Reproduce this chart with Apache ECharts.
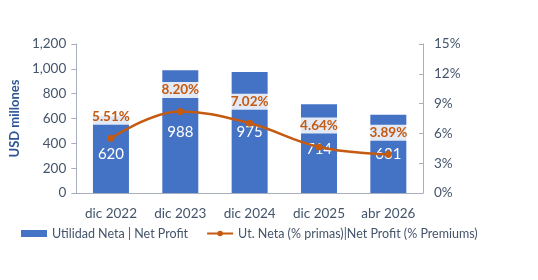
<!DOCTYPE html>
<html><head><meta charset="utf-8">
<script src="https://cdn.jsdelivr.net/npm/echarts@6/dist/echarts.min.js"></script>
<style>html,body{margin:0;padding:0;background:#fff}#c{width:538px;height:280px}</style>
</head><body><div id="c"></div>
<script>
const categories = ['dic 2022','dic 2023','dic 2024','dic 2025','abr 2026'];
const netProfit = [620, 988, 975, 714, 631];
const netProfitPct = [5.51, 8.20, 7.02, 4.64, 3.89];
const leftTicks = [0, 200, 400, 600, 800, 1000, 1200];
const rightTicks = [0, 3, 6, 9, 12, 15];

const FONT = 'Lato';
const axisColor = '#44546A';
const chart = echarts.init(document.getElementById('c'));
chart.setOption({
  animation: false,
  textStyle: {fontFamily: FONT},
  grid: {left: 68, right: 115, top: 44, bottom: 87},
  legend: {
    bottom: 35, left: 16, itemGap: 18, itemWidth: 26, itemHeight: 7,
    textStyle: {color: axisColor, fontSize: 12.5, fontFamily: FONT},
    data: [
      {name: 'Utilidad Neta | Net Profit', icon: 'rect'},
      {name: 'Ut. Neta (% primas)|Net Profit (% Premiums)'}
    ]
  },
  xAxis: {
    type: 'category', data: categories,
    axisLine: {lineStyle: {color: '#A6AEBF'}},
    axisTick: {show: false},
    axisLabel: {color: axisColor, fontSize: 13.5, margin: 14, fontFamily: FONT, interval: 0, hideOverlap: false}
  },
  yAxis: [{
    type: 'value', min: leftTicks[0], max: leftTicks[leftTicks.length-1], interval: 200,
    name: 'USD millones', nameLocation: 'middle', nameGap: 40, nameRotate: 90,
    nameTextStyle: {color: '#2F5597', fontWeight: 'bold', fontSize: 13, fontFamily: FONT},
    axisLine: {show: true, lineStyle: {color: '#A6AEBF'}},
    axisTick: {show: true, length: 5, lineStyle: {color: '#A6AEBF'}},
    splitLine: {show: false},
    axisLabel: {color: axisColor, fontSize: 13.5, margin: 10, fontFamily: FONT,
      formatter: v => v.toLocaleString('en-US')}
  }, {
    type: 'value', min: rightTicks[0], max: rightTicks[rightTicks.length-1], interval: 3,
    position: 'right',
    axisLine: {show: true, lineStyle: {color: '#A6AEBF'}},
    axisTick: {show: true, inside: true, length: 4, lineStyle: {color: '#A6AEBF'}},
    splitLine: {show: false},
    axisLabel: {color: axisColor, fontSize: 13.5, margin: 11, fontFamily: FONT, formatter: '{value}%'}
  }],
  series: [{
    name: 'Utilidad Neta | Net Profit', type: 'bar', data: netProfit, barWidth: 36,
    itemStyle: {color: '#4472C4'},
    label: {show: true, position: 'inside', color: '#fff', fontSize: 15, fontFamily: FONT}
  }, {
    name: 'Ut. Neta (% primas)|Net Profit (% Premiums)', type: 'line', yAxisIndex: 1,
    data: netProfitPct, smooth: 0.4, symbol: 'circle', symbolSize: 7,
    lineStyle: {color: '#C55A11', width: 2.5}, itemStyle: {color: '#C55A11'},
    label: {show: true, position: 'top', distance: 10, color: '#C55A11', fontWeight: 'bold',
      fontSize: 13.5, fontFamily: FONT, backgroundColor: 'rgba(255,255,255,0.85)',
      padding: [1, 2], formatter: p => p.value.toFixed(2) + '%'}
  }]
});
</script></body></html>
